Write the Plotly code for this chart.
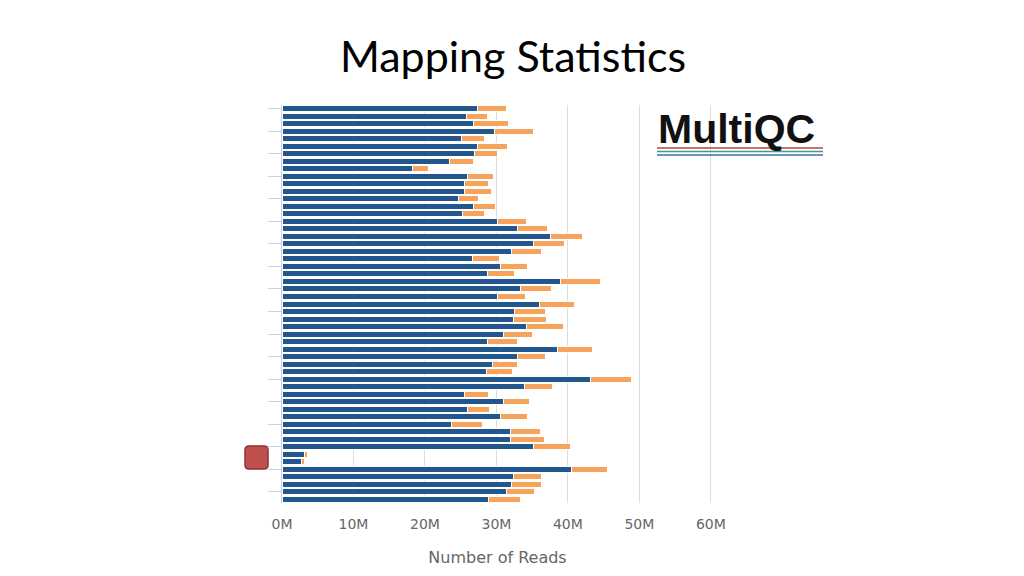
import plotly.graph_objects as go

samples = [f"Sample {i}" for i in range(1, 54)]
mapped = [27.4, 25.85, 26.8, 29.7, 25.1, 27.4, 27.0, 23.4, 18.2, 26.0,
          25.5, 25.5, 24.7, 26.8, 25.3, 30.2, 32.9, 37.5, 35.2, 32.1,
          26.6, 30.6, 28.7, 39.0, 33.3, 30.2, 36.0, 32.5, 32.4, 34.2,
          31.0, 28.7, 38.5, 32.9, 29.5, 28.6, 43.2, 33.9, 25.6, 31.0,
          26.0, 30.5, 23.7, 32.0, 32.0, 35.2, 3.1, 2.75, 40.55, 32.35,
          32.1, 31.4, 28.9]
unmapped = [4.0, 2.85, 4.95, 5.5, 3.2, 4.1, 3.2, 3.4, 2.3, 3.6,
            3.4, 3.8, 2.8, 3.1, 3.0, 4.0, 4.2, 4.5, 4.3, 4.2,
            3.8, 3.8, 3.8, 5.5, 4.35, 3.8, 4.9, 4.4, 4.65, 5.15,
            4.0, 4.3, 4.9, 4.0, 3.5, 3.7, 5.7, 3.9, 3.3, 3.6,
            3.0, 3.9, 4.4, 4.1, 4.7, 5.1, 0.5, 0.35, 5.05, 3.95,
            4.2, 3.9, 4.4]
tick_values = [0, 10, 20, 30, 40, 50, 60]
tick_labels = [f"{v}M" for v in tick_values]

# page body has an 8px margin; work in page pixel coordinates minus offset
OFF = 8
W, H = 1024 - OFF, 576 - OFF
L, R, T, B = 282 - OFF, 713 - OFF, 105 - OFF, 503 - OFF
XMAX = 60.3

def px(x):
    return (x - OFF - L) / (R - L)

def py(y):
    return (B - (y - OFF)) / (B - T)

fig = go.Figure()
fig.add_trace(go.Bar(y=samples, x=mapped, orientation="h", name="Mapped",
                     marker=dict(color="#21568f", line=dict(color="white", width=1))))
fig.add_trace(go.Bar(y=samples, x=unmapped, orientation="h", name="Unmapped",
                     marker=dict(color="#f7a35c", line=dict(color="white", width=1))))

# rounded red square marker on the left
x0, x1, y0, y1 = px(245), px(268), py(469), py(446)
rx, ry = 4 / (R - L), 4 / (B - T)
path = (f"M {x0+rx},{y0} L {x1-rx},{y0} Q {x1},{y0} {x1},{y0+ry} "
        f"L {x1},{y1-ry} Q {x1},{y1} {x1-rx},{y1} L {x0+rx},{y1} "
        f"Q {x0},{y1} {x0},{y1-ry} L {x0},{y0+ry} Q {x0},{y0} {x0+rx},{y0} Z")
shapes = [dict(type="path", xref="paper", yref="paper", path=path,
               fillcolor="#c0504d", line=dict(color="#8c3331", width=1.5))]
# MultiQC logo lines
for yy, col in [(148, "#b5404a"), (151.5, "#3c9b8a"), (155, "#3d6fae")]:
    shapes.append(dict(type="line", xref="paper", yref="paper",
                       x0=px(657), x1=px(823), y0=py(yy), y1=py(yy),
                       line=dict(color=col, width=1.6)))

fig.update_layout(
    width=W, height=H,
    margin=dict(l=L, r=W - R, t=T, b=H - B),
    paper_bgcolor="white", plot_bgcolor="white",
    barmode="stack", bargap=0.2,
    showlegend=False,
    title=dict(text="Mapping Statistics", x=(513 - OFF) / W, xanchor="center",
               y=1 - (57 - OFF) / H, yanchor="middle",
               font=dict(family="Lato", size=43, color="#000000")),
    shapes=shapes,
    annotations=[dict(text="<b>MultiQC</b>", xref="paper", yref="paper",
                      x=px(656), y=py(129), xanchor="left", yanchor="middle",
                      showarrow=False,
                      font=dict(family="Liberation Sans", size=41, color="#111111"))],
)
fig.update_xaxes(range=[0, XMAX], tickmode="array", tickvals=tick_values, ticktext=tick_labels,
                 showgrid=True, gridcolor="#dcdcdc", gridwidth=1,
                 zeroline=False, showline=False,
                 ticks="outside", ticklen=8, tickcolor="rgba(0,0,0,0)",
                 tickfont=dict(family="DejaVu Sans", size=14, color="#666666"),
                 title=dict(text="Number of Reads", standoff=21,
                            font=dict(family="DejaVu Sans", size=16, color="#666666")))
fig.update_yaxes(autorange="reversed", showticklabels=False,
                 tickmode="array", tickvals=samples[::3],
                 ticks="outside", ticklen=13, tickcolor="#c8d2de", tickwidth=1,
                 showline=True, linecolor="#c8d2de", linewidth=1,
                 showgrid=False)

fig.write_html("out.html")
